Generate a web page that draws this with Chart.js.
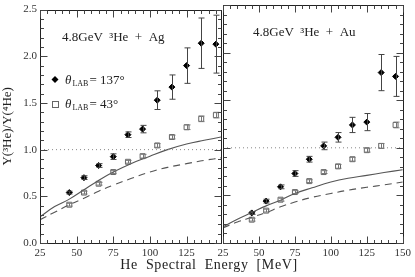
<!DOCTYPE html>
<html>
<head>
<meta charset="utf-8">
<script src="https://cdn.jsdelivr.net/npm/chart.js@4.4.1/dist/chart.umd.min.js"></script>
<style>
  body { margin: 0; background: #fff; }
  #wrap { position: relative; width: 415px; height: 277px; overflow: hidden; }
  canvas { position: absolute; top: 0; }
  #xtitle {
    position: absolute; top: 257px; left: 0; width: 418px; text-align: center;
    font: 14px "Liberation Serif", serif; letter-spacing: 0.6px; color: #222; word-spacing: 4px;
  }
</style>
</head>
<body>
<div id="wrap">
  <canvas id="left" width="226" height="277" style="left:0"></canvas>
  <canvas id="right" width="212" height="277" style="left:203px"></canvas>
  <div id="xtitle">He Spectral Energy [MeV]</div>
</div>
<script>
// measured bins (MeV)
const energies = [45, 55, 65, 75, 85, 95, 105, 115, 125, 135, 145];

// 4.8 GeV 3He + Ag
const agBack = [0.54, 0.70, 0.83, 0.925, 1.16, 1.22, 1.53, 1.67, 1.90, 2.14, 2.13];
const agBackErr = [0.015, 0.02, 0.02, 0.03, 0.03, 0.04, 0.10, 0.13, 0.19, 0.27, 0.31];
const agFwd = [0.41, 0.54, 0.635, 0.76, 0.87, 0.93, 1.045, 1.135, 1.24, 1.33, 1.37];
const agFwdErr = [0.015, 0.015, 0.015, 0.015, 0.015, 0.02, 0.02, 0.02, 0.025, 0.03, 0.03];

// 4.8 GeV 3He + Au
const auBack = [0.316, 0.44, 0.59, 0.73, 0.88, 1.02, 1.11, 1.24, 1.27, 1.79, 1.75];
const auBackErr = [0.015, 0.02, 0.02, 0.03, 0.03, 0.04, 0.05, 0.08, 0.09, 0.19, 0.21];
const auFwd = [0.245, 0.34, 0.455, 0.535, 0.65, 0.745, 0.805, 0.88, 0.975, 1.02, 1.24];
const auFwdErr = [0.015, 0.015, 0.015, 0.015, 0.015, 0.015, 0.02, 0.02, 0.02, 0.025, 0.03];

// model curves
const curveE = [25, 35, 45, 55, 65, 75, 87, 100, 112, 125, 137, 150];
const agSolid = [0.28, 0.39, 0.47, 0.57, 0.67, 0.76, 0.85, 0.93, 1.0, 1.06, 1.10, 1.14];
const agDashed = [0.25, 0.33, 0.41, 0.48, 0.555, 0.62, 0.69, 0.76, 0.81, 0.85, 0.885, 0.915];
const auSolid = [0.17, 0.25, 0.32, 0.39, 0.45, 0.52, 0.58, 0.64, 0.68, 0.71, 0.74, 0.77];
const auDashed = [0.16, 0.22, 0.27, 0.32, 0.38, 0.43, 0.48, 0.52, 0.555, 0.585, 0.61, 0.64];

const refE = [25, 150];
const refLevel = [1, 1];

const xTicks = [25, 50, 75, 100, 125, 150];
const yTicks = [0.0, 0.5, 1.0, 1.5, 2.0, 2.5];

const SERIF = '"Liberation Serif", "DejaVu Serif", serif';

function pts(xs, ys) { return xs.map((x, i) => ({ x: x, y: ys[i] })); }

function datasets(back, backErr, fwd, fwdErr, solid, dashed) {
  return [
    { data: pts(refE, refLevel), borderColor: '#888', borderWidth: 1, borderDash: [1, 3], pointRadius: 0 },
    { data: pts(curveE, solid), borderColor: '#555', borderWidth: 1.1, pointRadius: 0, tension: 0.4 },
    { data: pts(curveE, dashed), borderColor: '#555', borderWidth: 1.1, borderDash: [7, 5], pointRadius: 0, tension: 0.4 },
    { data: pts(energies, fwd), errors: fwdErr, errColor: '#777', showLine: false,
      pointStyle: 'rect', pointRadius: 3.5, borderColor: '#666', borderWidth: 1, backgroundColor: 'rgba(0,0,0,0)' },
    { data: pts(energies, back), errors: backErr, errColor: '#444', showLine: false,
      pointStyle: 'rectRot', pointRadius: 3, borderColor: '#000', borderWidth: 1, backgroundColor: '#000' }
  ];
}

// vertical error bars with caps
const errorBars = {
  id: 'errorBars',
  afterDatasetsDraw(chart) {
    const ctx = chart.ctx, y = chart.scales.y;
    chart.data.datasets.forEach((ds, di) => {
      if (!ds.errors) return;
      const meta = chart.getDatasetMeta(di);
      ctx.save();
      ctx.strokeStyle = ds.errColor;
      ctx.lineWidth = 1;
      meta.data.forEach((el, i) => {
        const v = ds.data[i].y, e = ds.errors[i];
        const x = Math.round(el.x) + 0.5;
        const y1 = y.getPixelForValue(v + e), y2 = y.getPixelForValue(v - e);
        ctx.beginPath();
        ctx.moveTo(x, y1); ctx.lineTo(x, y2);
        ctx.moveTo(x - 3, y1); ctx.lineTo(x + 3, y1);
        ctx.moveTo(x - 3, y2); ctx.lineTo(x + 3, y2);
        ctx.stroke();
      });
      ctx.restore();
    });
  }
};

// frame with inward major/minor ticks on all four sides
const frame = {
  id: 'panelFrame',
  afterDraw(chart) {
    const ctx = chart.ctx, a = chart.chartArea, xs = chart.scales.x, ys = chart.scales.y;
    const L = Math.round(a.left) + 0.5, R = Math.round(a.right) + 0.5;
    const T = Math.round(a.top) + 0.5, B = Math.round(a.bottom) + 0.5;
    ctx.save();
    ctx.lineWidth = 1;
    ctx.strokeStyle = '#222';
    ctx.strokeRect(L, T, R - L, B - T);
    ctx.strokeStyle = '#444';
    ctx.beginPath();
    for (let v = 25; v <= 150; v += 5) {
      if (v > xs.max + 0.01) break;
      const p = Math.round(xs.getPixelForValue(v)) + 0.5;
      const len = (v % 25 === 0) ? 7 : 3.5;
      ctx.moveTo(p, B); ctx.lineTo(p, B - len);
      ctx.moveTo(p, T); ctx.lineTo(p, T + len);
    }
    for (let k = 0; k <= 25; k++) {
      const p = Math.round(ys.getPixelForValue(k / 10)) + 0.5;
      const len = (k % 5 === 0) ? 7 : 3.5;
      ctx.moveTo(L, p); ctx.lineTo(L + len, p);
      ctx.moveTo(R, p); ctx.lineTo(R - len, p);
    }
    ctx.stroke();
    ctx.restore();
  }
};

// panel title and (left panel only) legend
const notes = {
  id: 'notes',
  afterDraw(chart) {
    const o = chart.options.plugins.notes;
    const ctx = chart.ctx, a = chart.chartArea;
    ctx.save();
    ctx.fillStyle = '#222';
    ctx.textBaseline = 'alphabetic';
    ctx.font = '13px ' + SERIF;
    ctx.fillText(o.title, a.left + o.titleDx, a.top + 31);
    if (o.legend) {
      const rows = [{ dy: 70, filled: true, text: '= 137°' }, { dy: 94, filled: false, text: '= 43°' }];
      rows.forEach(r => {
        const mx = a.left + 15, my = a.top + r.dy;
        ctx.beginPath();
        if (r.filled) {
          ctx.moveTo(mx, my - 3.5); ctx.lineTo(mx + 3.5, my); ctx.lineTo(mx, my + 3.5); ctx.lineTo(mx - 3.5, my);
          ctx.closePath(); ctx.fillStyle = '#000'; ctx.fill();
        } else {
          ctx.strokeStyle = '#666';
          ctx.strokeRect(Math.round(mx - 3) + 0.5, Math.round(my - 3) + 0.5, 6, 6);
        }
        ctx.fillStyle = '#222';
        let tx = a.left + 25;
        ctx.font = 'italic 13px ' + SERIF;
        ctx.fillText('θ', tx, my + 4);
        tx += ctx.measureText('θ').width + 1;
        ctx.font = '8px ' + SERIF;
        ctx.fillText('LAB', tx, my + 6);
        tx += ctx.measureText('LAB').width + 1;
        ctx.font = '13px ' + SERIF;
        ctx.fillText(r.text, tx, my + 4);
      });
    }
    ctx.restore();
  }
};

function makeChart(id, cfg) {
  return new Chart(document.getElementById(id), {
    type: 'line',
    data: { datasets: cfg.datasets },
    plugins: [errorBars, frame, notes],
    options: {
      responsive: false,
      animation: false,
      layout: { padding: cfg.padding },
      plugins: {
        legend: { display: false },
        tooltip: { enabled: false },
        notes: cfg.notes
      },
      scales: {
        x: {
          type: 'linear', min: 25, max: cfg.xmax,
          grid: { display: false, drawTicks: false }, border: { display: false },
          afterBuildTicks: s => { s.ticks = xTicks.filter(v => v <= s.max).map(v => ({ value: v })); },
          afterFit: s => { s.height = 34; },
          ticks: { padding: 4, color: '#333', font: { family: SERIF, size: 11 }, maxRotation: 0 }
        },
        y: {
          min: 0, max: 2.5,
          grid: { display: false, drawTicks: false }, border: { display: false },
          afterBuildTicks: s => { s.ticks = yTicks.map(v => ({ value: v })); },
          afterFit: s => { s.width = cfg.yWidth; },
          title: { display: cfg.showY, text: 'Y(³He)/Y(⁴He)', color: '#222', font: { family: SERIF, size: 13 }, padding: { top: 0, bottom: 0 } },
          ticks: { display: cfg.showY, padding: 3, color: '#333', font: { family: SERIF, size: 11 }, callback: v => v.toFixed(1) }
        }
      }
    }
  });
}

makeChart('left', {
  datasets: datasets(agBack, agBackErr, agFwd, agFwdErr, agSolid, agDashed),
  padding: { top: 4, right: 3, left: 0, bottom: 0 },
  xmax: 148.5, showY: true, yWidth: 40,
  notes: { title: '4.8GeV  ³He  +  Ag', titleDx: 22, legend: true }
});

makeChart('right', {
  datasets: datasets(auBack, auBackErr, auFwd, auFwdErr, auSolid, auDashed),
  padding: { top: 4, right: 8, left: 0, bottom: 0 },
  xmax: 150, showY: false, yWidth: 20,
  notes: { title: '4.8GeV  ³He  +  Au', titleDx: 30, legend: false }
});
</script>
</body>
</html>
